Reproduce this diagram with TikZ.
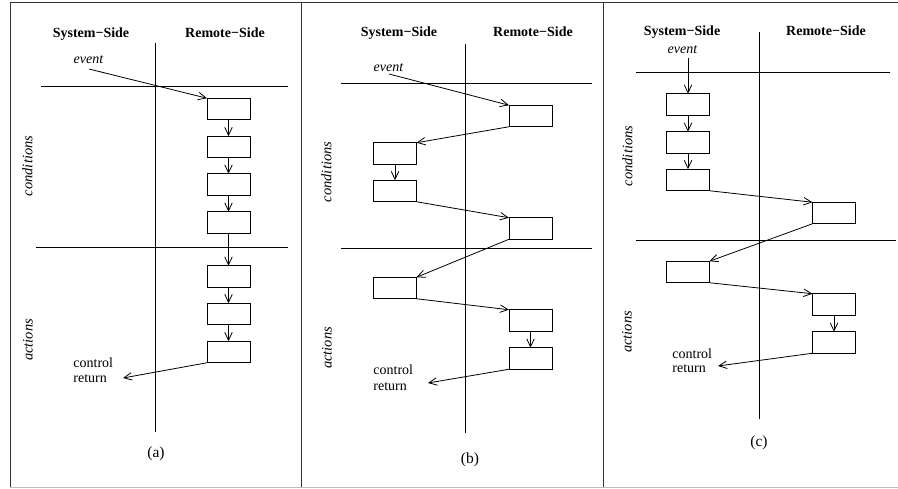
\documentclass[tikz,border=0pt]{standalone}
\usepackage{fontspec}
\setmainfont{Liberation Serif}
\usetikzlibrary{arrows.meta}
\begin{document}
\begin{tikzpicture}[x=1pt,y=-1pt,
  line width=0.8pt,
  box/.style={draw, line width=1pt, minimum width=43pt, minimum height=21.5pt, inner sep=0pt, outer sep=0pt},
  arr/.style={-{Straight Barb[length=8pt,width=7.5pt]}, line width=0.8pt},
  hdr/.style={font=\fontsize{14}{16}\selectfont\bfseries, anchor=base, inner sep=0pt},
  evlbl/.style={font=\fontsize{14}{16}\selectfont\itshape, anchor=base, inner sep=0pt},
  sidelbl/.style={font=\fontsize{14.5}{16}\selectfont\itshape, rotate=90, inner sep=0pt},
  txt/.style={font=\fontsize{14}{16}\selectfont, anchor=base west, inner sep=0pt},
  captxt/.style={font=\fontsize{15.5}{17}\selectfont, inner sep=0pt},
  panelline/.style={line width=1pt, draw=black!80},
  sepline/.style={line width=1pt},
]
\useasboundingbox (0,0) rectangle (898,489);

% frame
\draw[panelline] (898,3) -- (10,3) -- (10,487);
\draw[panelline] (301,3) -- (301,487);
\draw[panelline] (603,3) -- (603,487);
\draw[line width=0.9pt, draw=black!25] (10,487.5) -- (898,487.5);

% ================= (a) =================
\node[hdr] (ash) at (91,38) {System−Side};
\node[hdr] (arh) at (225,38) {Remote−Side};
\draw[sepline] (155.7,43) -- (155.7,432);
\draw[sepline] (41,87) -- (288,87);
\draw[sepline] (36,248) -- (288,248);
\node[evlbl] (aev) at (88.5,64) {event};
\node[sidelbl] (acond) at (27.5,166) {conditions};
\node[sidelbl] (aact) at (28,340) {actions};
\node[txt] (actl) at (73,368) {control};
\node[txt] (aret) at (73,383) {return};
\node[captxt] (acap) at (156,454) {(a)};

\node[box] (a1) at (228.5,109) {};
\node[box] (a2) at (228.5,147) {};
\node[box] (a3) at (228.5,184.5) {};
\node[box] (a4) at (228.5,222.5) {};
\node[box] (a5) at (228.5,276.5) {};
\node[box] (a6) at (228.5,314) {};
\node[box] (a7) at (228.5,352) {};
\coordinate (aevs) at (89,69);
\coordinate (aend) at (123,378);
\draw[arr] (aevs) -- (a1.north west);
\draw[arr] (a1) -- (a2);
\draw[arr] (a2) -- (a3);
\draw[arr] (a3) -- (a4);
\draw[arr] (a4) -- (a5);
\draw[arr] (a5) -- (a6);
\draw[arr] (a6) -- (a7);
\draw[arr] (a7.south west) -- (aend);

% ================= (b) =================
\node[hdr] (bsh) at (399,37) {System−Side};
\node[hdr] (brh) at (533,37) {Remote−Side};
\draw[sepline] (465,44) -- (465,433);
\draw[sepline] (341,84) -- (592,84);
\draw[sepline] (341,249) -- (592,249);
\node[evlbl] (bev) at (388.5,72) {event};
\node[sidelbl] (bcond) at (326.5,172) {conditions};
\node[sidelbl] (bact) at (327,348) {actions};
\node[txt] (bctl) at (373,375) {control};
\node[txt] (bret) at (373,391) {return};
\node[captxt] (bcap) at (470,460) {(b)};

\node[box] (b1) at (530.5,116) {};
\node[box] (b2) at (395,153.5) {};
\node[box] (b3) at (395,191) {};
\node[box] (b4) at (530.5,228.5) {};
\node[box] (b5) at (395,288) {};
\node[box] (b6) at (530.5,320.5) {};
\node[box] (b7) at (530.5,358.5) {};
\coordinate (bevs) at (389,74);
\coordinate (bend) at (428,383);
\draw[arr] (bevs) -- (b1.north west);
\draw[arr] (b1.south west) -- (b2.north east);
\draw[arr] (b2) -- (b3);
\draw[arr] (b3.south east) -- (b4.north west);
\draw[arr] (b4.south west) -- (b5.north east);
\draw[arr] (b5.south east) -- (b6.north west);
\draw[arr] (b6) -- (b7);
\draw[arr] (b7.south west) -- (bend);

% ================= (c) =================
\node[hdr] (csh) at (682,36) {System−Side};
\node[hdr] (crh) at (826,36) {Remote−Side};
\draw[sepline] (759,32) -- (759,419);
\draw[sepline] (636,73) -- (890,73);
\draw[sepline] (636,241) -- (896,241);
\node[evlbl] (cev) at (682.5,54) {event};
\node[sidelbl] (ccond) at (627.5,156) {conditions};
\node[sidelbl] (cact) at (627,332) {actions};
\node[txt] (cctl) at (672,359) {control};
\node[txt] (cret) at (672,373) {return};
\node[captxt] (ccap) at (759,443) {(c)};

\node[box] (c1) at (688,104.5) {};
\node[box] (c2) at (688,142.5) {};
\node[box] (c3) at (688,180) {};
\node[box] (c4) at (834,213) {};
\node[box] (c5) at (688,272) {};
\node[box] (c6) at (834,304.5) {};
\node[box] (c7) at (834,342.5) {};
\coordinate (cevs) at (688,58);
\coordinate (cend) at (718,366);
\draw[arr] (cevs) -- (c1.north);
\draw[arr] (c1) -- (c2);
\draw[arr] (c2) -- (c3);
\draw[arr] (c3.south east) -- (c4.north west);
\draw[arr] (c4.south west) -- (c5.north east);
\draw[arr] (c5.south east) -- (c6.north west);
\draw[arr] (c6) -- (c7);
\draw[arr] (c7.south west) -- (cend);
\end{tikzpicture}
\end{document}
